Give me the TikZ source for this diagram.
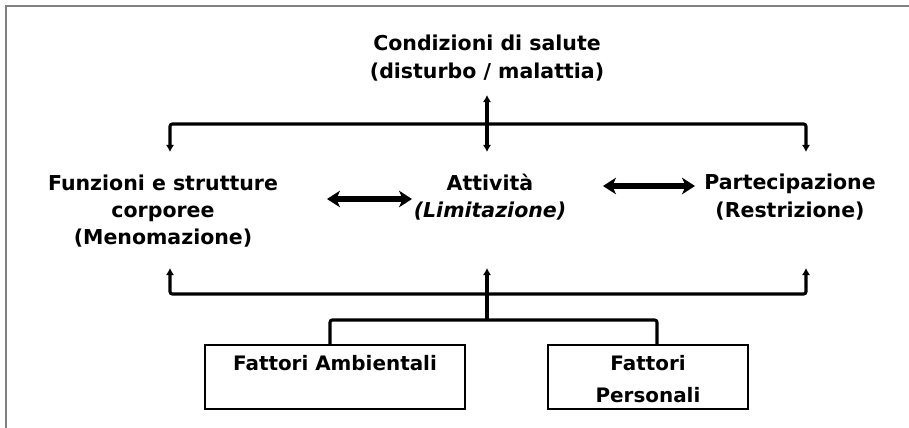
\documentclass[tikz,border=0pt]{standalone}
\usepackage{fontspec}
\setmainfont{DejaVu Sans}
\usepackage{tikz}
\usetikzlibrary{arrows.meta}
\usetikzlibrary{positioning}

\tikzset{
    label text/.style={font=\bfseries\fontsize{17.5}{23.4}\selectfont, align=center, inner sep=0pt},
    link/.style={line width=2.6pt, rounded corners=2pt},
    up tip/.style={-{Latex[length=6pt, width=7pt]}},
    dbl/.style={line width=4.5pt, {Stealth[length=11pt, width=14pt, inset=3pt]}-{Stealth[length=11pt, width=14pt, inset=3pt]}},
    factor/.style={draw, line width=1.7pt, font=\bfseries\fontsize{17}{27}\selectfont, align=center, inner sep=0pt},
}
\newcommand{\boxtop}{\rule{0pt}{20pt}}
\newcommand{\boxfoot}{\rule[-4pt]{0pt}{4pt}}

\begin{document}
\begin{tikzpicture}[x=0.03cm, y=-0.03cm]
    \useasboundingbox (0, 0) rectangle (909, 428);
    \draw[gray, line width=1.7pt] (6, 428) -- (6, 6) -- (909, 6);

    \node[label text] (salute) at (487, 58) {Condizioni di salute\\(disturbo / malattia)};
    \node[label text] (funz) at (163, 211) {Funzioni e strutture\\corporee\\(Menomazione)};
    \node[label text] (att) at (490, 197) {Attivit\`a\\\textit{(Limitazione)}};
    \node[label text] (part) at (790, 197) {Partecipazione\\(Restrizione)};

    \node[factor, minimum width=7.8cm, minimum height=1.92cm] (amb) at (335, 377) {\boxtop Fattori Ambientali\\\boxfoot};
    \node[factor, minimum width=6cm, minimum height=1.92cm] (pers) at (648, 377) {\boxtop Fattori\\Personali\boxfoot};

    % upper bracket
    \coordinate (hubT) at (487, 124);
    \coordinate (salB) at (487, 95);
    \coordinate (funzT) at (170, 152);
    \coordinate (attT) at (487, 152);
    \coordinate (partT) at (806, 152);
    \draw[link, up tip] (hubT) -- (salB);
    \draw[link, up tip] (hubT) -| (funzT);
    \draw[link, up tip] (hubT) -- (attT);
    \draw[link, up tip] (hubT) -| (partT);

    % lower bracket
    \coordinate (hubB) at (487, 294);
    \coordinate (hubC) at (487, 320);
    \coordinate (funzB) at (170, 268);
    \coordinate (attB) at (487, 268);
    \coordinate (partB) at (806, 268);
    \draw[link, up tip] (hubB) -| (funzB);
    \draw[link, up tip] (hubB) -- (attB);
    \draw[link, up tip] (hubB) -| (partB);
    \draw[link] (hubB) -- (hubC);
    \draw[link] ([xshift=-0.15cm]amb.north) |- (hubC) -| ([xshift=0.27cm]pers.north);

    % body <-> activity <-> participation
    \coordinate (funzR) at (327, 199);
    \coordinate (attL) at (412, 199);
    \coordinate (attR) at (603, 186);
    \coordinate (partL) at (695, 186);
    \draw[dbl] (funzR) -- (attL);
    \draw[dbl] (attR) -- (partL);
\end{tikzpicture}
\end{document}
